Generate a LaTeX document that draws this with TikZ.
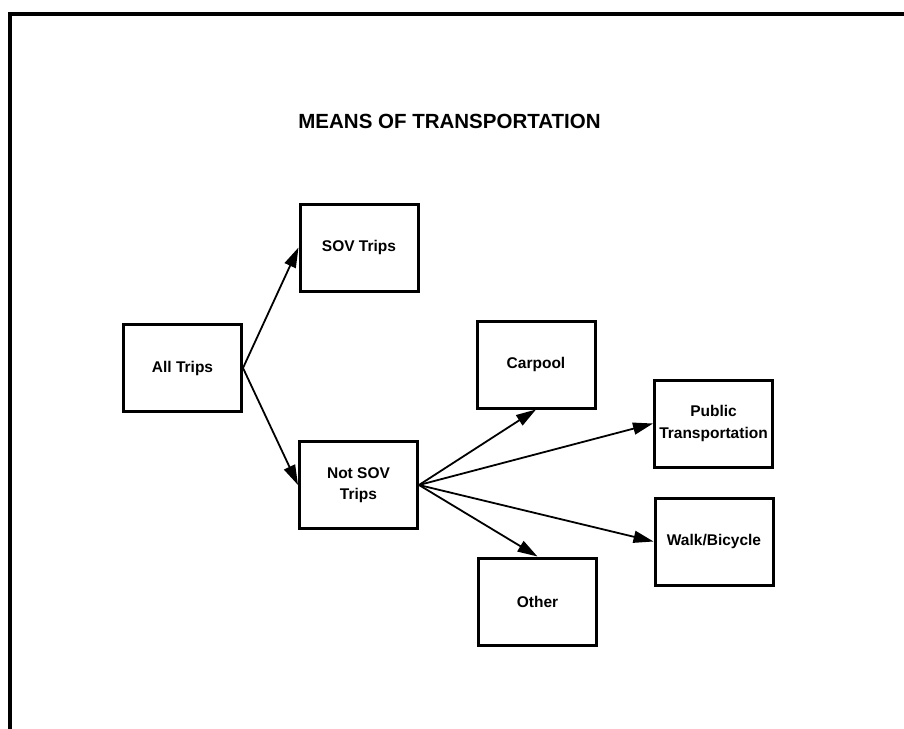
\documentclass[tikz,border=0pt]{standalone}
\usepackage{fontspec}
\setmainfont{Liberation Sans}
\usetikzlibrary{arrows.meta}
\begin{document}
\begin{tikzpicture}[x=1pt,y=-1pt,
  box/.style={draw,line width=3pt,rectangle,minimum width=118pt,minimum height=87pt,
    inner sep=0pt,align=center,font=\fontsize{15.5}{21.5}\selectfont\bfseries},
  link/.style={line width=1.8pt,-{Triangle[length=20pt,width=12pt]}}]
\useasboundingbox (0,0) rectangle (904,728);
\fill[white] (0,0) rectangle (904,728);
\draw[line width=4.5pt,line join=miter] (10,740) -- (10,14) -- (920,14);
\node[anchor=base,font=\fontsize{20.5}{24}\selectfont\bfseries] (title) at (449.5,128) {MEANS OF TRANSPORTATION};
\node[box] (all) at (182.5,368) {All Trips};
\node[box] (sov) at (359,247.5) {SOV Trips};
\node[box] (notsov) at (358.5,485) {Not SOV\\Trips};
\node[box] (carpool) at (536,364.5) {Carpool};
\node[box] (public) at (713.5,423.5) {Public\\Transportation};
\node[box] (walk) at (714,541.5) {Walk/Bicycle};
\node[box] (other) at (537.5,601.5) {Other};
\draw[link] (all.east) -- (sov.west);
\draw[link] (all.east) -- (notsov.west);
\draw[link] (notsov.east) -- (carpool.south);
\draw[link] (notsov.east) -- (public.west);
\draw[link] (notsov.east) -- (walk.west);
\draw[link] (notsov.east) -- (other.north);
\end{tikzpicture}
\end{document}
